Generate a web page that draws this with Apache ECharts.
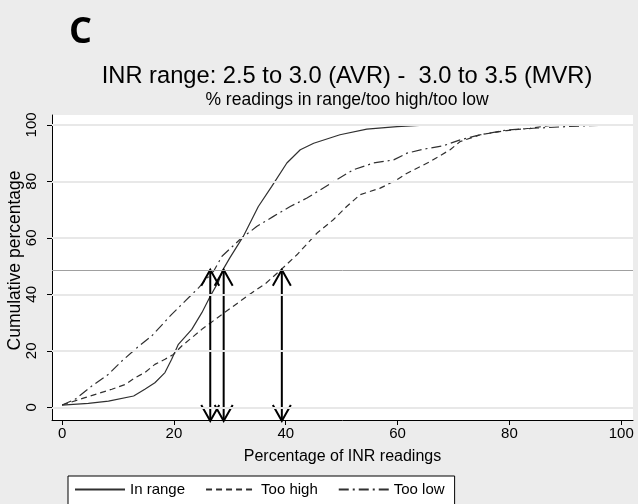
<!DOCTYPE html>
<html>
<head>
<meta charset="utf-8">
<script src="https://cdn.jsdelivr.net/npm/echarts@6/dist/echarts.min.js"></script>
<style>
  html, body { margin: 0; padding: 0; background: #ececec; }
  #container { width: 638px; height: 504px; }
</style>
</head>
<body>
<div id="container"></div>
<script>
// cumulative curves
var inRangeX = [0, 4.7, 8.3, 12.8, 14.8, 16.6, 18.4, 19.6, 20.8, 23.2, 25, 26.5, 28, 28.7, 30, 32.4, 35.1, 37.5, 40.2, 42.6, 45, 49.7, 54.5, 59.9, 65.5];
var inRangeY = [0.8, 1.4, 2.2, 4, 6.4, 8.7, 12.3, 17, 22.3, 27.6, 33.5, 39.3, 44.6, 48.5, 52.9, 60.5, 71.1, 78.2, 86.5, 91.2, 93.5, 96.5, 98.5, 99.4, 100];

var tooHighX = [0, 4.1, 6.5, 8.9, 11.3, 13.1, 14.8, 16.6, 18.4, 19.9, 21.4, 25, 28.6, 33.9, 36.5, 39.3, 42, 45.6, 48.5, 50.9, 53.3, 56.9, 59.9, 61.7, 65.8, 69.4, 71.2, 74.8, 79.5, 83.7, 88];
var tooHighY = [0.8, 3.4, 4.9, 6.4, 8.1, 10.5, 12.3, 15.2, 17, 18.7, 21.7, 27.6, 32.9, 40.5, 44, 49, 54, 61.7, 66.4, 71.1, 75.3, 77.6, 80.6, 82.9, 87, 91.2, 94.1, 96.5, 98, 98.8, 100];

var tooLowX = [0, 2.3, 5.3, 8.3, 10.7, 13.4, 16, 19.6, 22, 24.4, 27.1, 28.6, 31.8, 34.8, 37.8, 40.8, 43.8, 46.2, 49.1, 52.1, 55.7, 59.3, 61.7, 64.6, 68.2, 71.2, 74.8, 79.5, 84.3, 90.3, 98.6];
var tooLowY = [0.8, 2.8, 7.5, 11.7, 16.4, 21.1, 25.2, 32.9, 37.6, 42.3, 48.2, 53.5, 59.4, 64, 67.6, 71.1, 74.1, 77, 80.6, 84.1, 86.5, 87.6, 90, 91.4, 92.6, 94.7, 96.5, 98.2, 98.8, 99.4, 100];

// medians marked with arrows, and the 50% reference line
var medianX = [26.5, 28.9, 39.3];
var refY = 48.7;

var tickValues = [0, 20, 40, 60, 80, 100];
var xMin = -1.8, xMax = 102.1;
var yMin = -4.5, yMax = 103.5;

function pairs(xs, ys) {
    return xs.map(function (x, i) { return [x, ys[i]]; });
}

var font = '"Liberation Sans", Arial, sans-serif';
var lineColor = '#303030';

var chart = echarts.init(document.getElementById('container'));

var option = {
    backgroundColor: '#ececec',
    animation: false,
    title: [{
        text: 'C',
        left: 64,
        top: 10,
        textStyle: { fontFamily: '"Open Sans", sans-serif', fontWeight: 'bold', fontSize: 36, color: '#000' }
    }, {
        text: 'INR range: 2.5 to 3.0 (AVR) -  3.0 to 3.5 (MVR)',
        left: 342,
        top: 59,
        textAlign: 'center',
        textStyle: { fontFamily: font, fontWeight: 'normal', fontSize: 23.7, color: '#000' }
    }, {
        text: '% readings in range/too high/too low',
        left: 342,
        top: 86,
        textAlign: 'center',
        textStyle: { fontFamily: font, fontWeight: 'normal', fontSize: 17.5, color: '#000' }
    }],
    grid: {
        left: 52,
        right: 5,
        top: 115,
        bottom: 84,
        outerBoundsMode: 'none',
        show: true,
        backgroundColor: '#ffffff',
        borderWidth: 0
    },
    legend: {
        data: ['In range', 'Too high', 'Too low'],
        left: 68,
        top: 476,
        padding: [6, 10, 8, 6],
        itemWidth: 50,
        itemHeight: 10,
        itemGap: 20,
        borderColor: '#000',
        borderWidth: 1,
        backgroundColor: '#fff',
        itemStyle: { color: 'rgba(0,0,0,0)', borderWidth: 0, opacity: 0 },
        textStyle: { fontFamily: font, fontSize: 15, color: '#000' }
    },
    xAxis: {
        type: 'value',
        min: xMin,
        max: xMax,
        name: 'Percentage of INR readings',
        nameLocation: 'middle',
        nameGap: 29,
        nameMoveOverlap: false,
        nameTextStyle: { fontFamily: font, fontSize: 16, color: '#000' },
        axisLine: { show: true, onZero: false, lineStyle: { color: '#000', width: 1 } },
        axisTick: { show: true, length: 5, customValues: tickValues, lineStyle: { color: '#000' } },
        axisLabel: { customValues: tickValues, fontFamily: font, fontSize: 15, color: '#000', margin: 6 },
        splitLine: { show: false }
    },
    yAxis: {
        type: 'value',
        min: yMin,
        max: yMax,
        name: 'Cumulative percentage',
        nameLocation: 'middle',
        nameGap: 28,
        nameMoveOverlap: false,
        nameTextStyle: { fontFamily: font, fontSize: 17.5, color: '#000', padding: [0, 0, 0, 14] },
        axisLine: { show: true, onZero: false, lineStyle: { color: '#000', width: 1 } },
        axisTick: { show: true, length: 5, customValues: tickValues, lineStyle: { color: '#000' } },
        axisLabel: { customValues: tickValues, rotate: 90, fontFamily: font, fontSize: 15, color: '#000', margin: 13 },
        splitLine: { show: false }
    },
    series: [{
        // horizontal grid lines and reference line
        name: 'grid',
        type: 'line',
        data: [],
        z: 1,
        silent: true,
        markLine: {
            silent: true,
            symbol: 'none',
            label: { show: false },
            data: tickValues.map(function (v) {
                return { yAxis: v, lineStyle: { color: '#e8e8e8', width: 2, type: 'solid' } };
            }).concat([{ yAxis: refY, lineStyle: { color: '#a0a0a0', width: 1, type: 'solid' } }])
        }
    }, {
        name: 'In range',
        type: 'line',
        data: pairs(inRangeX, inRangeY),
        symbol: 'none',
        z: 3,
        lineStyle: { color: lineColor, width: 1.2, type: 'solid' },
        itemStyle: { color: lineColor }
    }, {
        name: 'Too high',
        type: 'line',
        data: pairs(tooHighX, tooHighY),
        symbol: 'none',
        z: 3,
        lineStyle: { color: lineColor, width: 1.2, type: [6, 4] },
        itemStyle: { color: lineColor }
    }, {
        name: 'Too low',
        type: 'line',
        data: pairs(tooLowX, tooLowY),
        symbol: 'none',
        z: 3,
        lineStyle: { color: lineColor, width: 1.2, type: [10, 4, 2, 4] },
        itemStyle: { color: lineColor }
    }, {
        // double-headed arrows from the axis up to the reference line
        name: 'arrows',
        type: 'custom',
        z: 4,
        silent: true,
        clip: false,
        data: medianX.map(function (x) { return [x, refY]; }),
        renderItem: function (params, api) {
            var top = api.coord([api.value(0), api.value(1)]);
            var bot = api.coord([api.value(0), yMin]);
            bot[1] += 1;
            var hw = 9, hl = 16;
            var st = { stroke: '#000', lineWidth: 2, fill: null };
            return {
                type: 'group',
                children: [{
                    type: 'line',
                    shape: { x1: top[0], y1: top[1], x2: bot[0], y2: bot[1] },
                    style: st
                }, {
                    type: 'polyline',
                    shape: { points: [[top[0] - hw, top[1] + hl], [top[0], top[1]], [top[0] + hw, top[1] + hl]] },
                    style: st
                }, {
                    type: 'polyline',
                    shape: { points: [[bot[0] - hw, bot[1] - hl], [bot[0], bot[1]], [bot[0] + hw, bot[1] - hl]] },
                    style: st
                }]
            };
        }
    }]
};

chart.setOption(option);
</script>
</body>
</html>
